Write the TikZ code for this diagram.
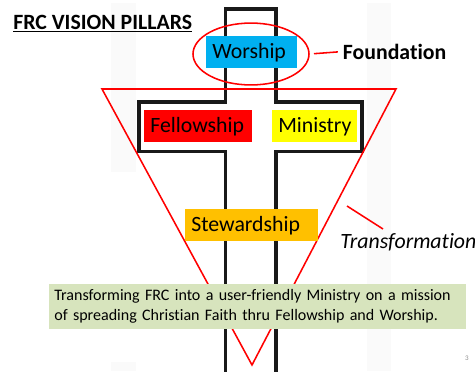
\documentclass[tikz,border=0pt]{standalone}
\usepackage{fontspec}
\setmainfont{Carlito}[Ligatures=NoCommon]
\usetikzlibrary{positioning,shapes.geometric}
\definecolor{wblue}{HTML}{00B0F0}
\definecolor{fyellow}{HTML}{FFFF00}
\definecolor{sgold}{HTML}{FFC000}
\definecolor{mgreen}{HTML}{D7E4BD}

\begin{document}
\begin{tikzpicture}[x=0.025cm, y=-0.025cm,
    pillar/.style={anchor=north west, minimum height=22.8pt, inner ysep=0pt, inner xsep=4.3pt, align=left, font=\fontsize{15.5}{17}\selectfont},
    outline/.style={draw=black!90, line width=2.8pt},
    redline/.style={draw=red, line width=1.1pt}]
        \useasboundingbox (0,0) rectangle (475,371);
        \fill [black!2] (111,3) rectangle (136,172);
        \fill [black!2] (367,3) rectangle (391,371);
        \fill [black!2] (111,362) rectangle (136,371);
        % cross
        \draw [outline] (225.5,373) -- (225.5,151.5) -- (139,151.5) -- (139,102) -- (225.5,102) -- (225.5,9)
            -- (276,9) -- (276,102) -- (362,102) -- (362,151.5) -- (276,151.5) -- (276,373);
        \draw [redline] (102,89) -- (396,89) -- (252,365) -- cycle;
        \node (ring) [ellipse, draw=red, line width=1.1pt, minimum width=82.5pt, minimum height=44pt, inner sep=0pt] at (251,54) {};
        \node (worship) [pillar, fill=wblue, text width=56pt] at (206,36) {Worship};
        \node (fellow) [pillar, fill=red, text width=68pt] at (144,110) {Fellowship};
        \node (ministry) [pillar, fill=fyellow, text width=52pt] at (272,110) {Ministry};
        \node (steward) [pillar, fill=sgold, text width=86pt] at (185,209) {Stewardship};
        \node (title) [anchor=base west, inner sep=0pt, font=\bfseries\fontsize{15.5}{17}\selectfont] at (13,29) {\underline{FRC VISION PILLARS}};
        \node (found) [right=20pt of ring, yshift=1.5pt, font=\bfseries\fontsize{15.5}{17}\selectfont] {Foundation};
        \draw [redline, shorten <=3pt] (ring.east) -- (found.west);
        \node (trans) [anchor=base west, inner sep=0pt, font=\itshape\fontsize{15.5}{17}\selectfont] at (340,248) {Transformation};
        \coordinate (tfrom) at (347,206);
        \coordinate (tto) at (383,229);
        \draw [redline] (tfrom) -- (tto);
        \node (mission) [anchor=north west, fill=mgreen, text width=289pt, minimum height=32pt, inner xsep=3.6pt, align=left,
            font=\fontsize{11.4}{14.2}\selectfont] at (49,284)
            {Transforming FRC into a user-friendly Ministry on a mission\\ of spreading Christian Faith thru Fellowship and Worship.};
        \node (pnum) [font=\fontsize{5}{6}\selectfont, text=black!45] at (467,358) {3};
\end{tikzpicture}
\end{document}
